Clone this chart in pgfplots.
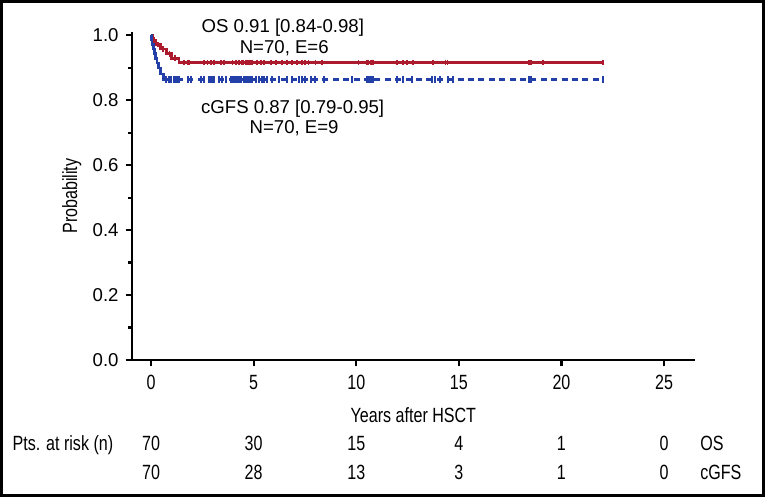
\documentclass[border=0pt]{standalone}
\usepackage{fontspec}
\setmainfont{Liberation Sans}
\newfontfamily\narrowfont[FakeStretch=0.78]{Liberation Sans}
\usepackage{pgfplots}
\pgfplotsset{compat=1.18}
\definecolor{osred}{RGB}{172,26,46}
\definecolor{gfsblue}{RGB}{34,64,168}
\begin{document}
\begin{tikzpicture}
\useasboundingbox (0,0) rectangle (382.5pt,248.5pt);
\draw[line width=1.6pt] (0.8pt,0.8pt) rectangle (381.7pt,247.7pt);
\begin{axis}[
  at={(66pt,68.5pt)}, anchor=south west,
  scale only axis, width=281.4pt, height=164pt,
  xmin=-0.93, xmax=26.5, ymin=0, ymax=1.01,
  axis x line*=bottom, axis y line*=left,
  axis line style={-, line width=1.3pt},
  every outer x axis line/.append style={-},
  every outer y axis line/.append style={-},
  tick align=outside,
  major tick length=3.2pt, minor tick length=1.8pt,
  every tick/.style={black, line width=1.1pt},
  xtick={0,5,10,15,20,25},
  ytick={0,0.2,0.4,0.6,0.8,1.0},
  minor ytick={0.1,0.3,0.5,0.7,0.9},
  /pgf/number format/assume math mode=true,
  yticklabel style={font=\fontsize{9.3}{10}\selectfont, /pgf/number format/.cd, fixed, fixed zerofill, precision=1},
  xticklabel style={font=\narrowfont\fontsize{10.3}{11}\selectfont, yshift=-1pt},
  xlabel={Years after HSCT},
  xlabel style={at={(axis description cs:0.5,-0.168)}, anchor=center, font=\narrowfont\fontsize{10.3}{11}\selectfont},
  ylabel={Probability},
  ylabel style={at={(axis description cs:-0.107,0.5)}, anchor=center, rotate=0, font=\narrowfont\fontsize{10.3}{11}\selectfont},
  clip=false,
]
% OS curve
\addplot[const plot, osred, line width=1.25pt] coordinates {
(0,1) (0.08,0.986) (0.25,0.971) (0.45,0.957) (0.75,0.943) (1.0,0.929) (1.35,0.916) (22.04,0.916)};
\addplot[only marks, osred, mark=|, mark size=1.4pt, mark options={line width=0.9pt}] coordinates {
(0.15,0.986) (0.35,0.971) (0.6,0.957) (0.9,0.943) (1.15,0.929)
(1.6,0.916) (1.78,0.916) (1.86,0.916) (2.57,0.916) (2.75,0.916) (2.91,0.916) (3.07,0.916)
(3.40,0.916) (3.54,0.916) (3.97,0.916) (4.13,0.916) (4.27,0.916) (4.42,0.916) (4.5,0.916)
(4.6,0.916) (4.68,0.916) (4.75,0.916) (4.83,0.916) (4.9,0.916) (5.18,0.916) (5.34,0.916)
(5.49,0.916) (5.83,0.916) (6.07,0.916) (6.39,0.916) (6.64,0.916) (6.88,0.916) (7.12,0.916)
(7.36,0.916) (7.52,0.916) (7.67,0.916) (8.01,0.916) (8.33,0.916) (10.11,0.916) (10.52,0.916)
(10.6,0.916) (10.7,0.916) (10.77,0.916) (10.84,0.916) (11.98,0.916) (12.28,0.916) (12.46,0.916)
(12.78,0.916) (13.75,0.916) (14.35,0.916) (14.45,0.916) (18.4,0.916) (18.45,0.916) (18.5,0.916)
(19.09,0.916) (22.04,0.916)};
% cGFS curve
\addplot[const plot, gfsblue, line width=1.25pt] coordinates {
(0,1) (0.03,0.986) (0.07,0.971) (0.12,0.957) (0.17,0.943) (0.22,0.929) (0.28,0.914) (0.35,0.899) (0.45,0.881) (0.6,0.863) (0.75,0.863)};
\addplot[gfsblue, line width=1.25pt, dash pattern=on 3pt off 2.2pt] coordinates {
(0.75,0.863) (22.04,0.863)};
\addplot[only marks, gfsblue, mark=|, mark size=1.7pt, mark options={line width=1pt, solid}] coordinates {
(0.73,0.863) (0.89,0.863) (0.97,0.863) (1.12,0.863) (1.2,0.863) (1.26,0.863) (1.36,0.863)
(1.78,0.863) (1.94,0.863) (2.43,0.863) (2.59,0.863) (2.82,0.863) (2.9,0.863) (2.96,0.863)
(3.06,0.863) (3.3,0.863) (3.48,0.863) (3.64,0.863) (3.88,0.863) (3.96,0.863) (4.05,0.863)
(4.13,0.863) (4.21,0.863) (4.27,0.863) (4.37,0.863) (4.51,0.863) (4.6,0.863) (4.66,0.863)
(4.75,0.863) (4.85,0.863) (4.94,0.863) (5.1,0.863) (5.24,0.863) (5.42,0.863) (5.49,0.863)
(5.67,0.863) (5.91,0.863) (6.23,0.863) (6.64,0.863) (6.88,0.863) (7.2,0.863) (7.36,0.863)
(7.52,0.863) (7.77,0.863) (8.01,0.863) (8.41,0.863) (9.79,0.863) (10.52,0.863) (10.6,0.863)
(10.7,0.863) (10.77,0.863) (10.83,0.863) (11.98,0.863) (12.3,0.863) (12.7,0.863) (13.67,0.863)
(13.83,0.863) (14.08,0.863) (14.48,0.863) (14.72,0.863) (18.4,0.863) (18.45,0.863) (18.5,0.863)
(22.04,0.863)};
% annotations
\node[anchor=base, font=\fontsize{9.3}{10}\selectfont] at (axis cs:6.42,1.009) {OS 0.91 [0.84-0.98]};
\node[anchor=base, font=\fontsize{9.3}{10}\selectfont] at (axis cs:6.49,0.944) {N=70, E=6};
\node[anchor=base, font=\fontsize{9.3}{10}\selectfont] at (axis cs:6.9,0.76) {cGFS 0.87 [0.79-0.95]};
\node[anchor=base, font=\fontsize{9.3}{10}\selectfont] at (axis cs:6.97,0.6975) {N=70, E=9};
% risk table
\begin{scope}[every node/.style={font=\narrowfont\fontsize{10.3}{11}\selectfont, inner sep=0pt}]
\node[anchor=base west] at (axis cs:-6.77,-0.278) {Pts. at risk (n)};
\node[anchor=base] at (axis cs:0,-0.278) {70};
\node[anchor=base] at (axis cs:5,-0.278) {30};
\node[anchor=base] at (axis cs:10,-0.278) {15};
\node[anchor=base] at (axis cs:15,-0.278) {4};
\node[anchor=base] at (axis cs:20,-0.278) {1};
\node[anchor=base] at (axis cs:25,-0.278) {0};
\node[anchor=base west] at (axis cs:26.75,-0.278) {OS};
\node[anchor=base] at (axis cs:0,-0.3686) {70};
\node[anchor=base] at (axis cs:5,-0.3686) {28};
\node[anchor=base] at (axis cs:10,-0.3686) {13};
\node[anchor=base] at (axis cs:15,-0.3686) {3};
\node[anchor=base] at (axis cs:20,-0.3686) {1};
\node[anchor=base] at (axis cs:25,-0.3686) {0};
\node[anchor=base west] at (axis cs:26.75,-0.3686) {cGFS};
\end{scope}
\end{axis}
\end{tikzpicture}
\end{document}
